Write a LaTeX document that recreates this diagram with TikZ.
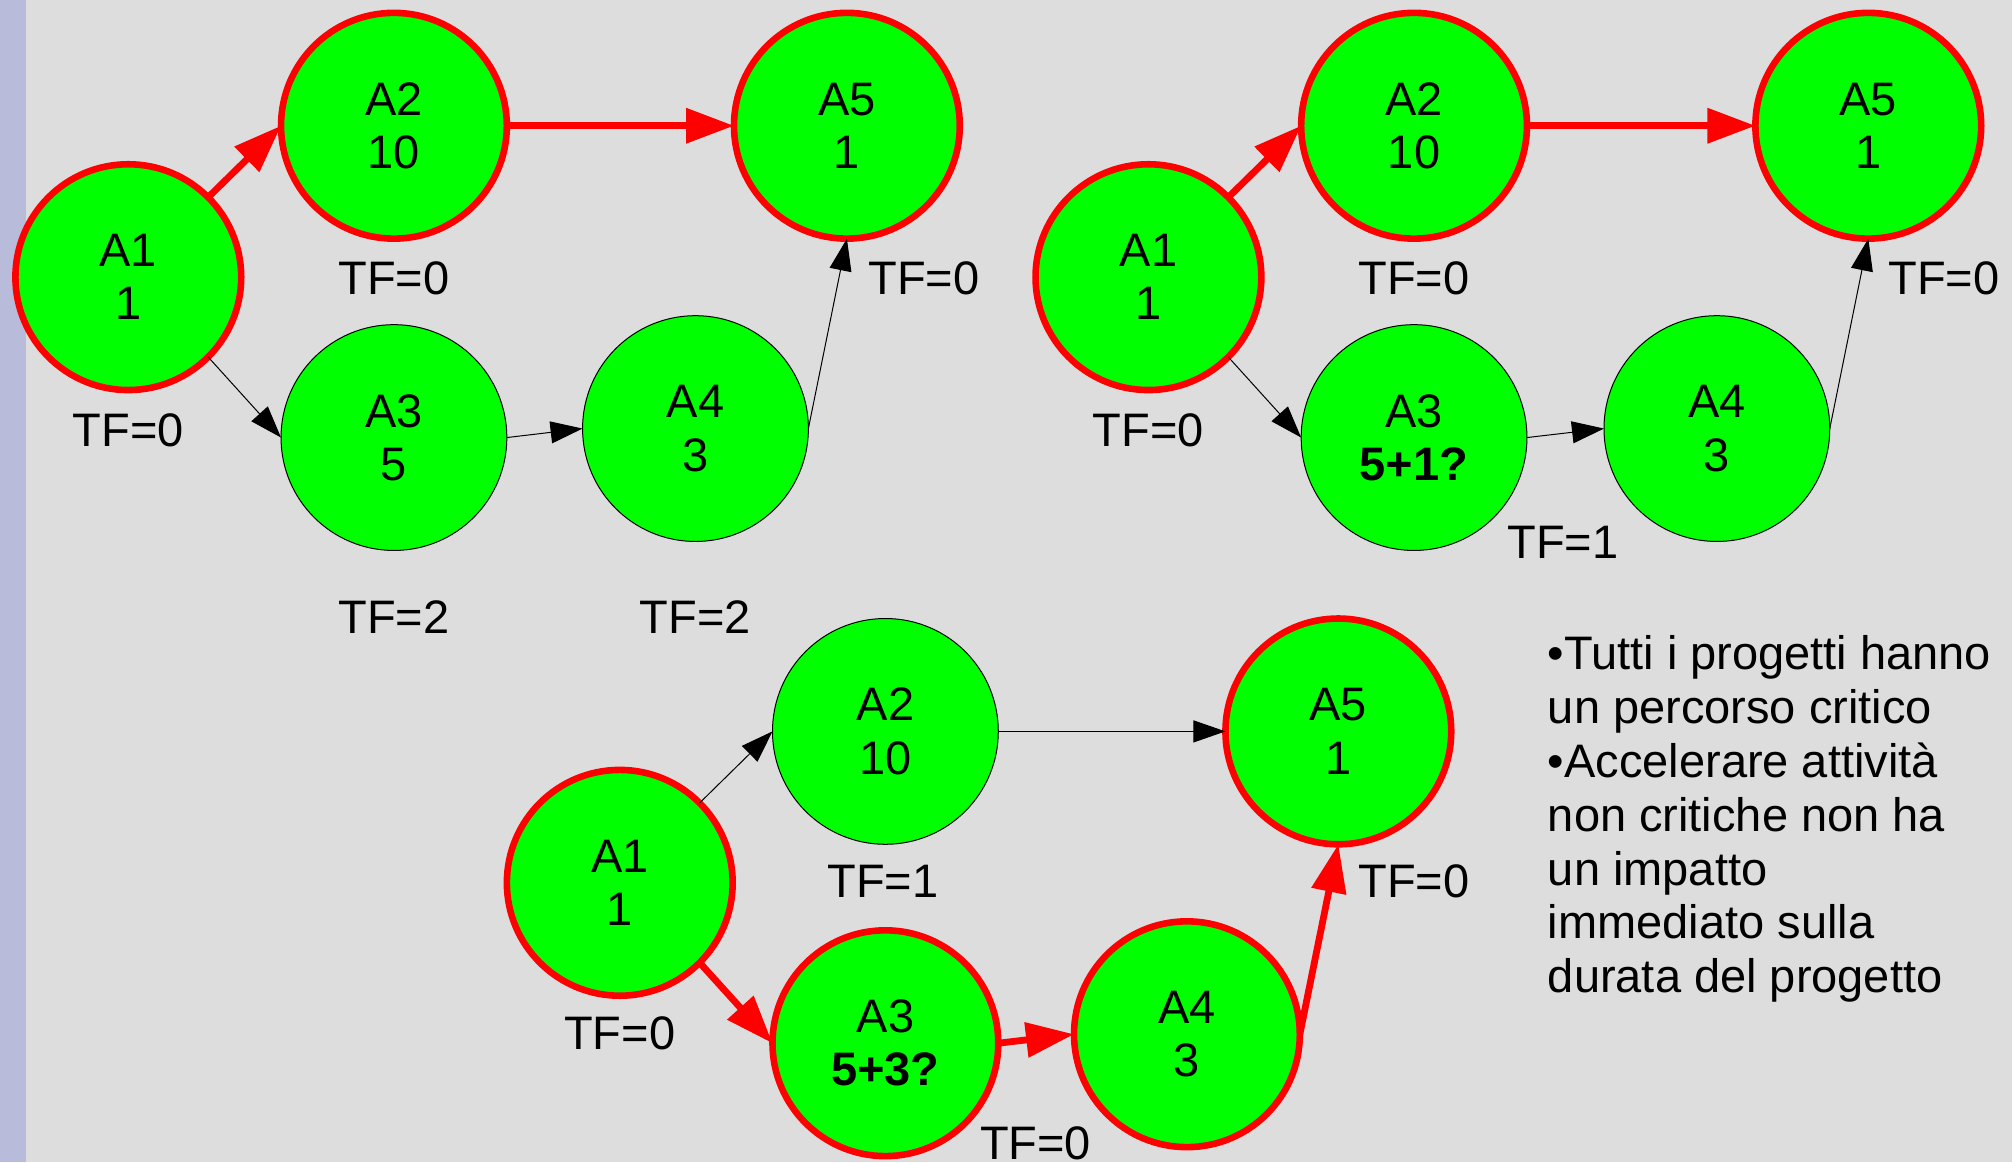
\documentclass[tikz,border=0pt]{standalone}
\usepackage{fontspec}
\setmainfont{Liberation Sans}
\usetikzlibrary{arrows.meta}
\definecolor{bggray}{RGB}{221,221,221}
\definecolor{stripblue}{RGB}{184,188,218}
\definecolor{actgreen}{RGB}{0,255,0}
\definecolor{critred}{RGB}{255,0,0}
\newcommand{\labfont}{\fontsize{23.5pt}{26.6pt}\selectfont}
\tikzset{
  act/.style={circle, fill=actgreen, draw=black, line width=0.5pt, minimum size=112.9pt,
    inner sep=0pt, outer sep=0pt, align=center, font=\labfont},
  crit/.style={act, draw=critred, line width=3.3pt},
  tf/.style={inner sep=0pt, font=\labfont},
  thinarrow/.style={-{Triangle[length=16pt,width=11pt]}, line width=0.5pt, draw=black},
  critarrow/.style={-{Triangle[length=24pt,width=17pt]}, line width=3.4pt, draw=critred},
}
\begin{document}
\begin{tikzpicture}[x=0.6416pt, y=-0.6416pt]
\fill[bggray] (0,0) rectangle (1568,905.6);
\fill[stripblue] (0,0) rectangle (20,905.6);
\useasboundingbox (0,0) rectangle (1568,905.6);

% ---- Diagram 1 (top left)
\node[crit] (pa1) at (100,216) {A1\\1};
\node[crit] (pa2) at (307,98) {A2\\10};
\node[crit] (pa5) at (660,98) {A5\\1};
\node[act]  (pa3) at (307,341) {A3\\5};
\node[act]  (pa4) at (542,334) {A4\\3};
\draw[critarrow] (pa1.45) -- (pa2.west);
\draw[critarrow] (pa2.east) -- (pa5.west);
\draw[thinarrow] (pa1.-45) -- (pa3.west);
\draw[thinarrow] (pa3.east) -- (pa4.west);
\draw[thinarrow] (pa4.east) -- (pa5.south);
\node[tf] (pt1) at (100,335) {TF=0};
\node[tf] (pt2) at (307,217) {TF=0};
\node[tf] (pt5) at (720,217) {TF=0};
\node[tf] (pt3) at (307,481) {TF=2};
\node[tf] (pt4) at (542,481) {TF=2};

% ---- Diagram 2 (top right)
\node[crit] (qa1) at (895,216) {A1\\1};
\node[crit] (qa2) at (1102,98) {A2\\10};
\node[crit] (qa5) at (1456,98) {A5\\1};
\node[act]  (qa3) at (1102,341) {A3\\\textbf{5+1?}};
\node[act]  (qa4) at (1338,334) {A4\\3};
\draw[critarrow] (qa1.45) -- (qa2.west);
\draw[critarrow] (qa2.east) -- (qa5.west);
\draw[thinarrow] (qa1.-45) -- (qa3.west);
\draw[thinarrow] (qa3.east) -- (qa4.west);
\draw[thinarrow] (qa4.east) -- (qa5.south);
\node[tf] (qt1) at (895,335) {TF=0};
\node[tf] (qt2) at (1102,217) {TF=0};
\node[tf] (qt5) at (1515,217) {TF=0};
\node[tf] (qt3) at (1218,423) {TF=1};

% ---- Diagram 3 (bottom)
\node[crit] (ra1) at (483,688) {A1\\1};
\node[act]  (ra2) at (690,570) {A2\\10};
\node[crit] (ra5) at (1043,570) {A5\\1};
\node[crit] (ra3) at (690,813) {A3\\\textbf{5+3?}};
\node[crit] (ra4) at (925,806) {A4\\3};
\draw[thinarrow] (ra1.45) -- (ra2.west);
\draw[thinarrow] (ra2.east) -- (ra5.west);
\draw[critarrow] (ra1.-45) -- (ra3.west);
\draw[critarrow] (ra3.east) -- (ra4.west);
\draw[critarrow] (ra4.east) -- (ra5.south);
\node[tf] (rt1) at (483,805) {TF=0};
\node[tf] (rt2) at (688,687) {TF=1};
\node[tf] (rt5) at (1102,687) {TF=0};
\node[tf] (rt3) at (807,891) {TF=0};

% ---- Notes (anchored at the baseline of the last line)
\node[inner sep=0pt, anchor=base west, align=left,
      font=\fontsize{23.5pt}{26.9pt}\selectfont] (notes) at (1206,773.6)
  {•Tutti i progetti hanno\\un percorso critico\\•Accelerare attività\\non critiche non ha\\un impatto\\immediato sulla\\durata del progetto};
\end{tikzpicture}
\end{document}
